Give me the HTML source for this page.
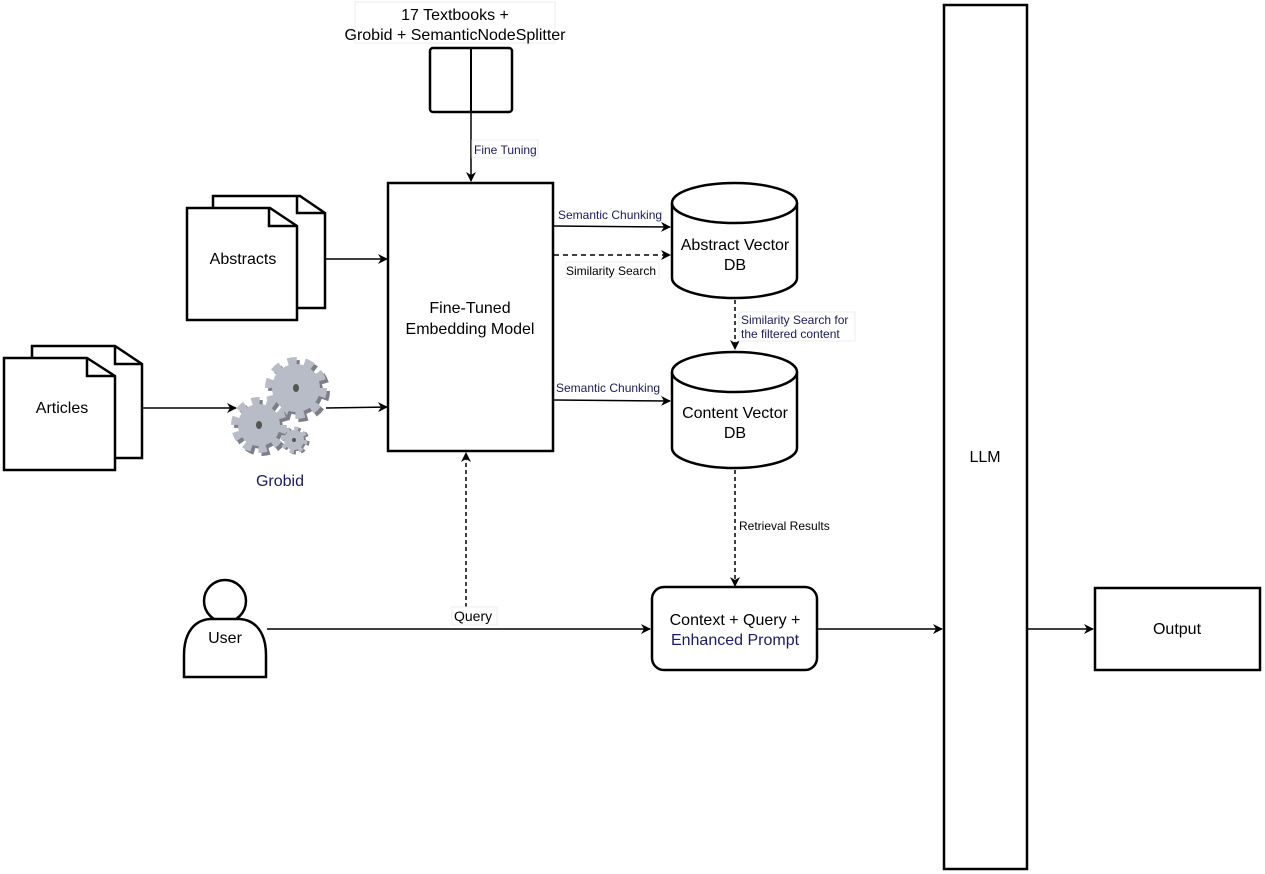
<!DOCTYPE html>
<html><head><meta charset="utf-8"><style>
html,body{margin:0;padding:0;background:#fff;}
svg{display:block;}
text{font-family:"Liberation Sans",Arial,sans-serif;}
</style></head><body>
<svg width="1265" height="874" viewBox="0 0 1265 874" xmlns="http://www.w3.org/2000/svg">
<defs>
<marker id="a" viewBox="0 0 10 10" refX="9" refY="5" markerWidth="10" markerHeight="10" orient="auto" markerUnits="userSpaceOnUse">
<path d="M0,0 L10,5 L0,10 L3,5 z" fill="#000"/></marker>
</defs>
<rect width="1265" height="874" fill="#fff"/>

<rect x="355" y="2" width="200" height="41" fill="#fff" stroke="#eee" stroke-width="1"/>
<text x="455" y="20" font-size="16" text-anchor="middle">17 Textbooks +</text>
<text x="455" y="40" font-size="16" text-anchor="middle">Grobid + SemanticNodeSplitter</text>
<rect x="430" y="48" width="82" height="64" rx="3" fill="#fff" stroke="#000" stroke-width="2.5"/>
<line x1="471" y1="48" x2="471" y2="112" stroke="#000" stroke-width="2"/>
<line x1="471" y1="112" x2="471" y2="181" stroke="#000" stroke-width="1.5" marker-end="url(#a)"/>
<rect x="472" y="140" width="66" height="18" fill="#fff" stroke="#eee" stroke-width="1"/>
<text x="474" y="154" font-size="12" fill="#1a1a5e">Fine Tuning</text>

<rect x="388" y="183" width="165" height="268" fill="#fff" stroke="#000" stroke-width="2.5"/>
<text x="470" y="313" font-size="16" text-anchor="middle">Fine-Tuned</text>
<text x="470" y="334" font-size="16" text-anchor="middle">Embedding Model</text>

<path d="M213,196 L300,196 L325,213 L325,308 L213,308 Z" fill="#fff" stroke="#000" stroke-width="2.5"/>
<path d="M297,196 L297,213 L325,213" fill="none" stroke="#000" stroke-width="2.5"/>
<path d="M187,208 L270,208 L297,226 L297,320 L187,320 Z" fill="#fff" stroke="#000" stroke-width="2.5"/>
<path d="M269,208 L269,226 L297,226" fill="none" stroke="#000" stroke-width="2.5"/>
<text x="243" y="264" font-size="16" text-anchor="middle">Abstracts</text>
<line x1="325" y1="259" x2="387" y2="259" stroke="#000" stroke-width="1.5" marker-end="url(#a)"/>

<path d="M32,346 L115,346 L142,364 L142,458 L32,458 Z" fill="#fff" stroke="#000" stroke-width="2.5"/>
<path d="M115,346 L115,364 L142,364" fill="none" stroke="#000" stroke-width="2.5"/>
<path d="M4,358 L87,358 L115,376 L115,470 L4,470 Z" fill="#fff" stroke="#000" stroke-width="2.5"/>
<path d="M87,358 L87,376 L115,376" fill="none" stroke="#000" stroke-width="2.5"/>
<text x="62" y="413" font-size="16" text-anchor="middle">Articles</text>
<line x1="143" y1="408" x2="236" y2="408" stroke="#000" stroke-width="1.5" marker-end="url(#a)"/>

<g>
<circle cx="299" cy="391" r="24" fill="#7c7f88"/><circle cx="299" cy="391" r="27" fill="none" stroke="#7c7f88" stroke-width="8" stroke-dasharray="9 7.96"/>
<circle cx="296" cy="388" r="24" fill="#b8bcc7"/><circle cx="296" cy="388" r="27" fill="none" stroke="#b8bcc7" stroke-width="8" stroke-dasharray="9 7.96"/>
<ellipse cx="296" cy="388" rx="3" ry="4" fill="#555"/>
<circle cx="262" cy="428" r="21" fill="#7c7f88"/><circle cx="262" cy="428" r="24" fill="none" stroke="#7c7f88" stroke-width="8" stroke-dasharray="8 7.08"/>
<circle cx="259" cy="425" r="21" fill="#b8bcc7"/><circle cx="259" cy="425" r="24" fill="none" stroke="#b8bcc7" stroke-width="8" stroke-dasharray="8 7.08"/>
<ellipse cx="259" cy="425" rx="3" ry="4" fill="#555"/>
<circle cx="296" cy="441" r="10" fill="#7c7f88"/><circle cx="296" cy="441" r="11" fill="none" stroke="#7c7f88" stroke-width="5" stroke-dasharray="4 4.64"/>
<circle cx="294" cy="440" r="10" fill="#b8bcc7"/><circle cx="294" cy="440" r="11" fill="none" stroke="#b8bcc7" stroke-width="5" stroke-dasharray="4 4.64"/>
<circle cx="294" cy="440" r="2" fill="#555"/>
</g>
<text x="280" y="486" font-size="16" text-anchor="middle" fill="#1a1a6e">Grobid</text>
<line x1="326" y1="408" x2="387" y2="407" stroke="#000" stroke-width="1.5" marker-end="url(#a)"/>

<path d="M672,203 L672,278 A62.5,20 0 0 0 797,278 L797,203" fill="#fff" stroke="#000" stroke-width="2.5"/>
<ellipse cx="734.5" cy="203" rx="62.5" ry="20" fill="#fff" stroke="#000" stroke-width="2.5"/>
<text x="735" y="250" font-size="16" text-anchor="middle">Abstract Vector</text>
<text x="735" y="270" font-size="16" text-anchor="middle">DB</text>
<line x1="554" y1="226" x2="670" y2="227" stroke="#000" stroke-width="1.5" marker-end="url(#a)"/>
<text x="558" y="219" font-size="12" fill="#1a1a5e">Semantic Chunking</text>
<line x1="554" y1="255" x2="670" y2="255" stroke="#000" stroke-width="1.5" stroke-dasharray="5 4" marker-end="url(#a)"/>
<rect x="566" y="262" width="93" height="16" fill="#fff" stroke="#eee"/>
<text x="566" y="275" font-size="12">Similarity Search</text>

<line x1="735" y1="300" x2="735" y2="349" stroke="#000" stroke-width="1.5" stroke-dasharray="4 3" marker-end="url(#a)"/>
<rect x="739" y="312" width="116" height="29" fill="#fff" stroke="#eee"/>
<text x="741" y="324" font-size="12" fill="#1a1a5e">Similarity Search for</text>
<text x="741" y="338" font-size="12" fill="#1a1a5e">the filtered content</text>

<path d="M672,372 L672,448 A62.5,20 0 0 0 797,448 L797,372" fill="#fff" stroke="#000" stroke-width="2.5"/>
<ellipse cx="734.5" cy="372" rx="62.5" ry="20" fill="#fff" stroke="#000" stroke-width="2.5"/>
<text x="735" y="418" font-size="16" text-anchor="middle">Content Vector</text>
<text x="735" y="438" font-size="16" text-anchor="middle">DB</text>
<line x1="554" y1="400" x2="670" y2="401" stroke="#000" stroke-width="1.5" marker-end="url(#a)"/>
<text x="556" y="392" font-size="12" fill="#1a1a5e">Semantic Chunking</text>

<line x1="735" y1="470" x2="735" y2="586" stroke="#000" stroke-width="1.5" stroke-dasharray="4 3" marker-end="url(#a)"/>
<text x="739" y="530" font-size="12">Retrieval Results</text>

<circle cx="225" cy="601" r="21" fill="#fff" stroke="#000" stroke-width="2.5"/>
<path d="M184,677 L184,655 C184,632 195,620 210,619 L240,619 C255,620 266,632 266,655 L266,677 Z" fill="#fff" stroke="#000" stroke-width="2.5"/>
<text x="225" y="643" font-size="16" text-anchor="middle">User</text>
<line x1="267" y1="629" x2="650" y2="629" stroke="#000" stroke-width="1.5" marker-end="url(#a)"/>
<line x1="466" y1="607" x2="466" y2="453" stroke="#000" stroke-width="1.5" stroke-dasharray="4 3" marker-end="url(#a)"/>
<rect x="452" y="607" width="45" height="18" fill="#fff" stroke="#eee"/>
<text x="454" y="621" font-size="14">Query</text>

<rect x="652" y="587" width="165" height="83" rx="12" fill="#fff" stroke="#000" stroke-width="2.5"/>
<text x="735" y="625" font-size="16" text-anchor="middle">Context + Query +</text>
<text x="735" y="645" font-size="16" text-anchor="middle" fill="#1a1a6e">Enhanced Prompt</text>
<line x1="818" y1="629" x2="942" y2="629" stroke="#000" stroke-width="1.5" marker-end="url(#a)"/>

<rect x="944" y="5" width="83" height="864" fill="#fff" stroke="#000" stroke-width="2.5"/>
<text x="985" y="462" font-size="16" text-anchor="middle">LLM</text>
<line x1="1028" y1="629" x2="1093" y2="629" stroke="#000" stroke-width="1.5" marker-end="url(#a)"/>

<rect x="1095" y="588" width="165" height="82" fill="#fff" stroke="#000" stroke-width="2.5"/>
<text x="1177" y="634" font-size="16" text-anchor="middle">Output</text>
</svg>
</body></html>
